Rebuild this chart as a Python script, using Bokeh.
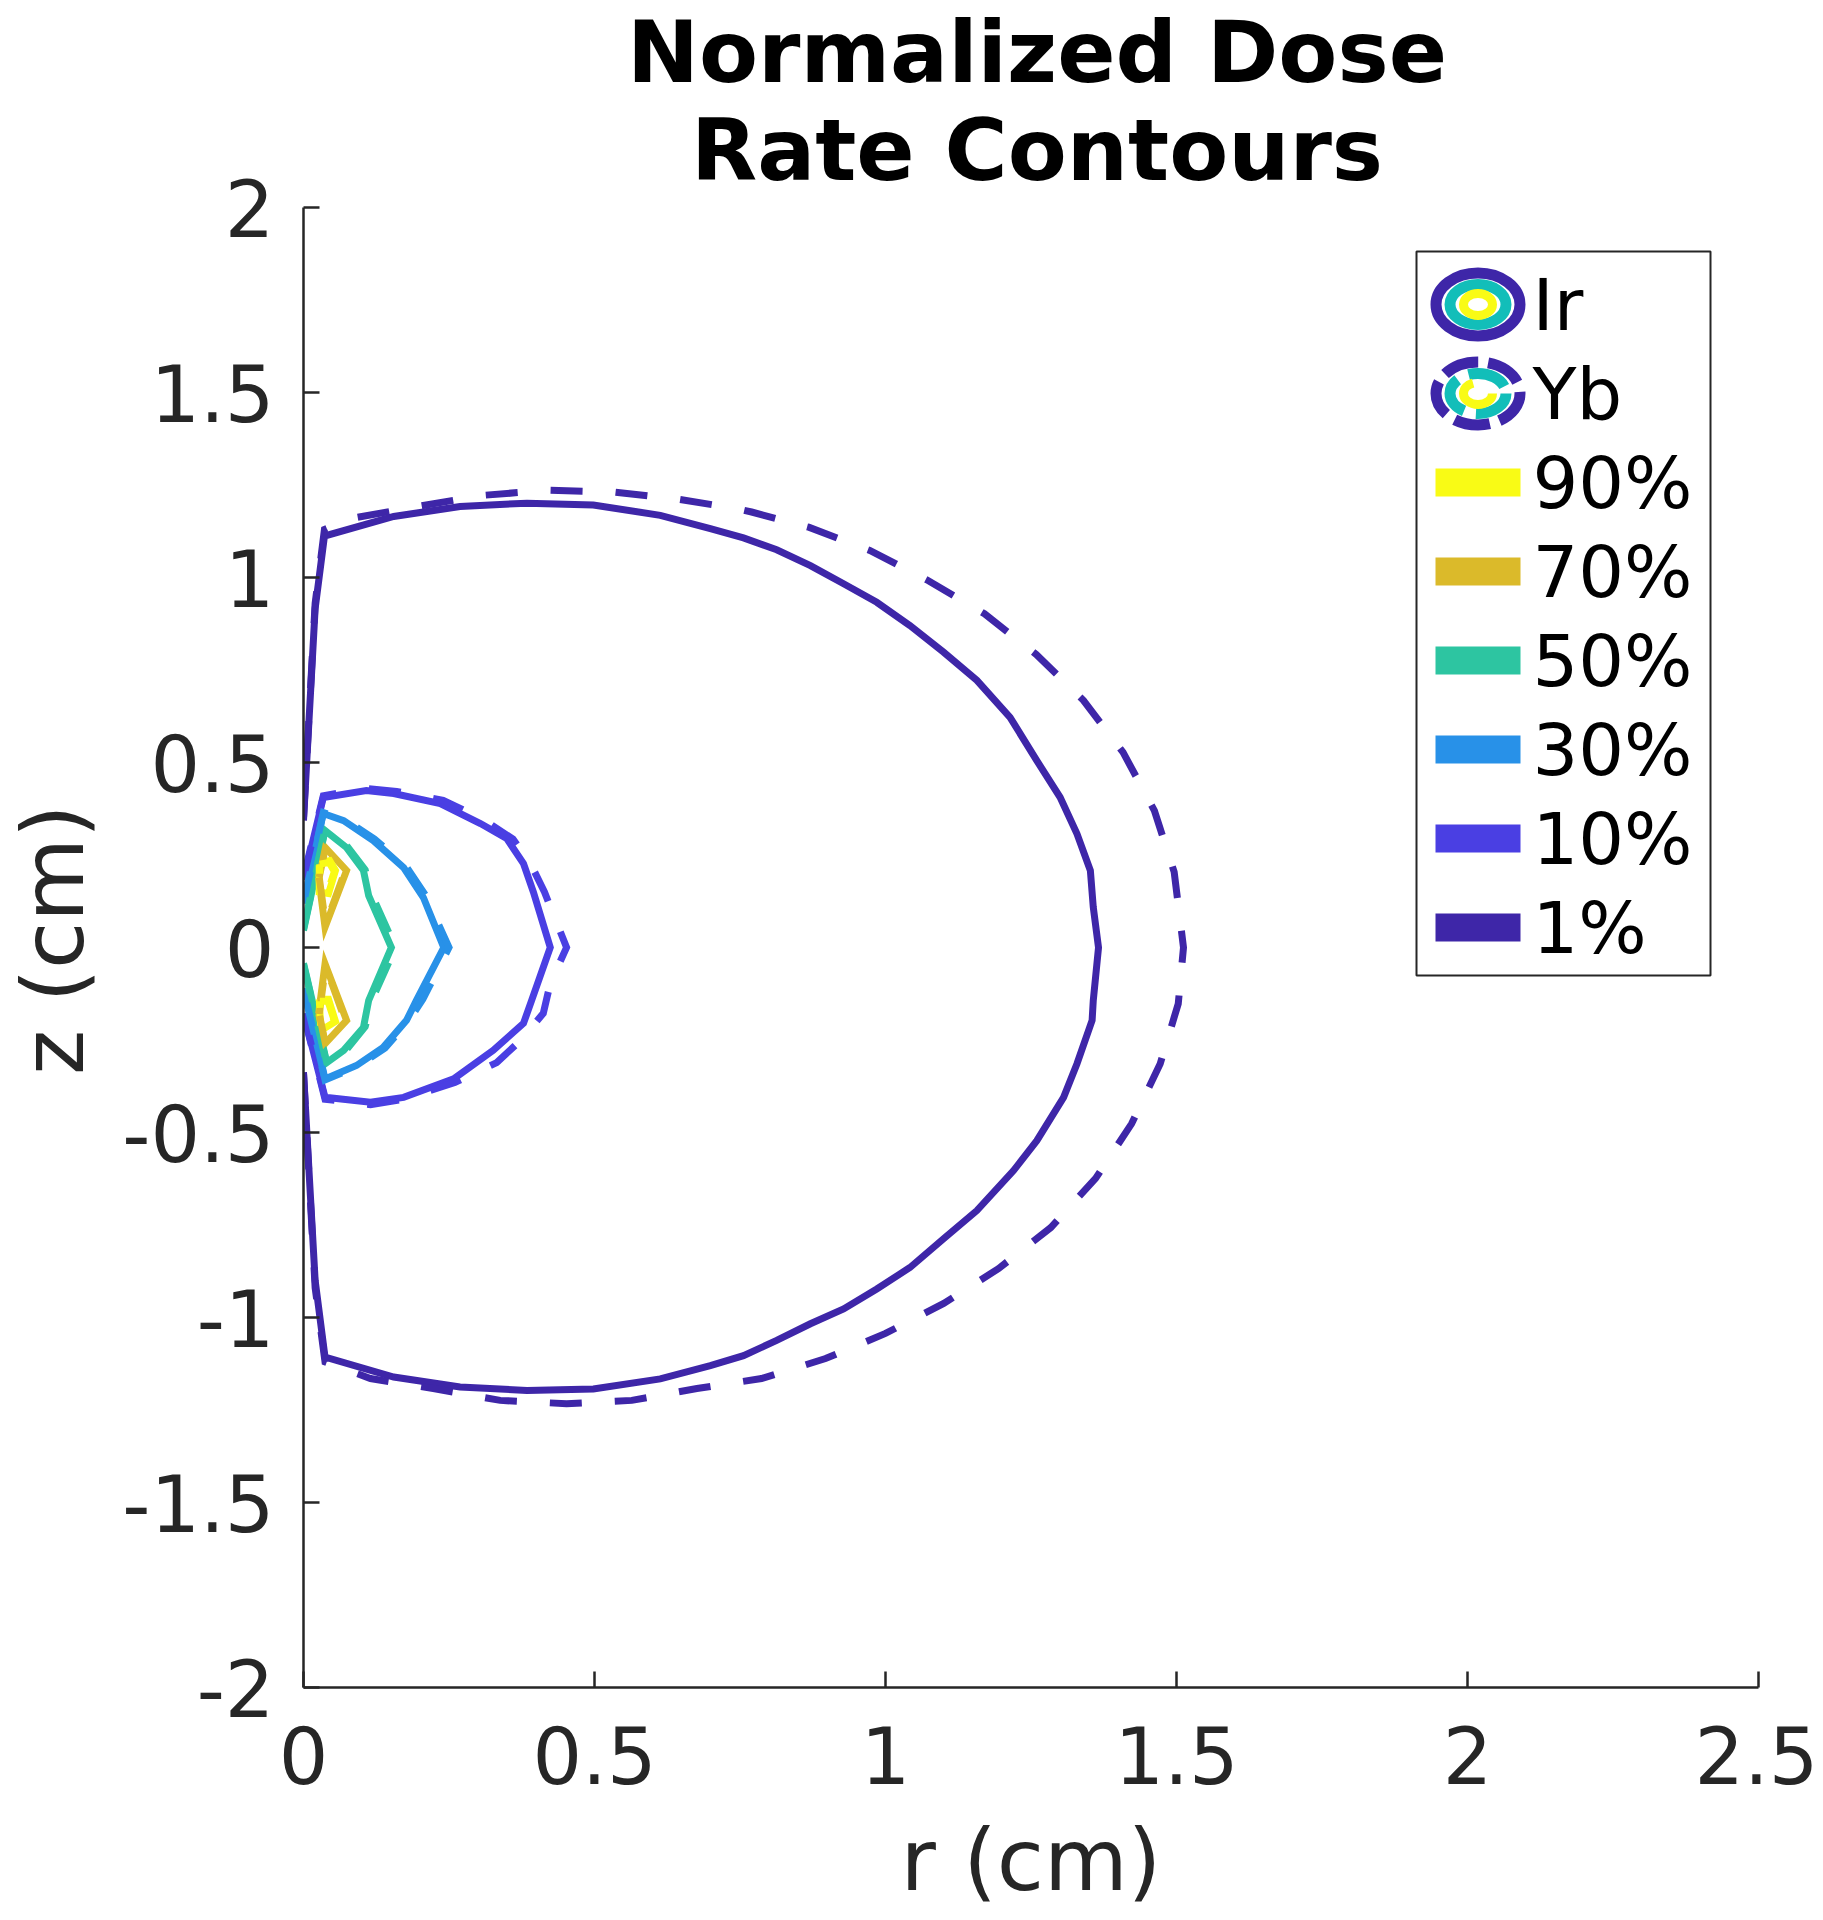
from bokeh.plotting import figure
from bokeh.models import Range1d, FixedTicker
from bokeh.embed import file_html
from bokeh.resources import INLINE
from bokeh.core.properties import value

# ---------------- data (r, z in cm) ----------------
ir_1_r = [0.0, 0.02, 0.036, 0.155, 0.269, 0.384, 0.498, 0.613, 0.699, 0.756, 0.813, 0.871, 0.928, 0.985, 1.042, 1.100,
          1.157, 1.214, 1.260, 1.300, 1.329, 1.352, 1.357, 1.366,
          1.357, 1.355, 1.329, 1.306, 1.26, 1.22, 1.157, 1.1, 1.042, 0.985, 0.928, 0.871, 0.813, 0.756, 0.699, 0.613,
          0.498, 0.384, 0.269, 0.155, 0.037, 0.02, 0.0]
ir_1_z = [0.343, 0.916, 1.112, 1.165, 1.192, 1.201, 1.196, 1.168, 1.132, 1.107, 1.075, 1.032, 0.983, 0.933, 0.870, 0.798,
          0.722, 0.622, 0.505, 0.406, 0.307, 0.208, 0.109, 0.0,
          -0.143, -0.197, -0.314, -0.405, -0.522, -0.603, -0.711, -0.787, -0.865, -0.923, -0.977, -1.017, -1.062, -1.103,
          -1.13, -1.166, -1.193, -1.197, -1.188, -1.161, -1.107, -0.9, -0.337]

yb_1_r = [0.0, 0.02, 0.036, 0.083, 0.196, 0.308, 0.421, 0.534, 0.646, 0.745, 0.770, 0.868, 0.973, 1.073, 1.170, 1.259,
          1.340, 1.408, 1.462, 1.496, 1.512,
          1.503, 1.472, 1.423, 1.361, 1.284, 1.194, 1.1, 1.0, 0.897, 0.787, 0.676, 0.564, 0.452, 0.338, 0.223, 0.115,
          0.037, 0.02, 0.0]
yb_1_z = [0.35, 0.93, 1.13, 1.16, 1.192, 1.222, 1.236, 1.231, 1.211, 1.186, 1.177, 1.136, 1.073, 0.992, 0.902, 0.792,
          0.668, 0.528, 0.370, 0.204, 0.0,
          -0.152, -0.314, -0.476, -0.624, -0.757, -0.868, -0.962, -1.043, -1.111, -1.165, -1.192, -1.224, -1.233, -1.224,
          -1.192, -1.165, -1.12, -0.92, -0.34]

ir_10_r = [0.0, 0.034, 0.108, 0.155, 0.235, 0.304, 0.349, 0.378, 0.395, 0.424, 0.392, 0.378, 0.326, 0.258, 0.172, 0.115, 0.037, 0.0]
ir_10_z = [0.183, 0.405, 0.424, 0.416, 0.389, 0.335, 0.295, 0.227, 0.15, 0.0, -0.143, -0.205, -0.278, -0.355, -0.405, -0.418, -0.405, -0.178]

yb_10_r = [0.0, 0.034, 0.108, 0.16, 0.24, 0.31, 0.36, 0.39, 0.414, 0.452, 0.424, 0.412, 0.373, 0.332, 0.26, 0.172, 0.115, 0.037, 0.0]
yb_10_z = [0.19, 0.41, 0.43, 0.422, 0.398, 0.345, 0.293, 0.227, 0.15, 0.0, -0.097, -0.178, -0.251, -0.311, -0.365, -0.41, -0.425, -0.41, -0.18]

ir_30_r = [0.0, 0.034, 0.069, 0.12, 0.172, 0.206, 0.241, 0.194, 0.177, 0.137, 0.091, 0.037, 0.0]
ir_30_z = [0.119, 0.362, 0.343, 0.289, 0.216, 0.135, 0.0, -0.143, -0.197, -0.27, -0.319, -0.355, -0.11]

yb_30_r = [0.0, 0.034, 0.07, 0.122, 0.176, 0.21, 0.25, 0.205, 0.18, 0.14, 0.092, 0.037, 0.0]
yb_30_z = [0.12, 0.365, 0.347, 0.293, 0.22, 0.14, 0.0, -0.14, -0.2, -0.272, -0.322, -0.358, -0.112]

ir_50_r = [0.0, 0.037, 0.074, 0.103, 0.112, 0.151, 0.112, 0.103, 0.069, 0.04, 0.0]
ir_50_z = [0.046, 0.316, 0.27, 0.208, 0.14, 0.0, -0.143, -0.216, -0.278, -0.311, -0.043]

yb_50_r = [0.0, 0.037, 0.076, 0.106, 0.118, 0.158, 0.118, 0.106, 0.072, 0.04, 0.0]
yb_50_z = [0.05, 0.32, 0.272, 0.21, 0.14, 0.0, -0.14, -0.214, -0.28, -0.315, -0.046]

# 70 % and 90 % are two closed lobes each (upper, lower)
ir_70_r = [[0.026, 0.037, 0.074, 0.037, 0.026], [0.026, 0.037, 0.074, 0.037, 0.026]]
ir_70_z = [[0.19, 0.271, 0.208, 0.055, 0.19], [-0.179, -0.044, -0.197, -0.26, -0.179]]
yb_70_r = [[0.027, 0.037, 0.071, 0.038, 0.027], [0.027, 0.038, 0.071, 0.037, 0.027]]
yb_70_z = [[0.19, 0.265, 0.205, 0.062, 0.19], [-0.18, -0.05, -0.195, -0.255, -0.18]]

ir_90_r = [[0.027, 0.045, 0.055, 0.043, 0.027, 0.027], [0.027, 0.043, 0.055, 0.03, 0.027]]
ir_90_z = [[0.23, 0.235, 0.208, 0.146, 0.15, 0.23], [-0.14, -0.14, -0.2, -0.224, -0.14]]
yb_90_r = [[0.028, 0.044, 0.053, 0.042, 0.028, 0.028], [0.028, 0.042, 0.053, 0.031, 0.028]]
yb_90_z = [[0.225, 0.23, 0.205, 0.152, 0.156, 0.225], [-0.145, -0.145, -0.198, -0.22, -0.145]]

levels = ["90%", "70%", "50%", "30%", "10%", "1%"]
level_colors = ["#F9FB15", "#DBBA2A", "#2DC5A1", "#2891E8", "#4A3FE3", "#3E26A8"]
sources = ["Ir", "Yb"]

title_lines = ["Normalized Dose", "Rate Contours"]
x_label = "r (cm)"
y_label = "z (cm)"

x_ticks = [0, 0.5, 1, 1.5, 2, 2.5]
x_tick_labels = ["0", "0.5", "1", "1.5", "2", "2.5"]
y_ticks = [-2, -1.5, -1, -0.5, 0, 0.5, 1, 1.5, 2]
y_tick_labels = ["-2", "-1.5", "-1", "-0.5", "0", "0.5", "1", "1.5", "2"]
z_min, z_max = -2, 2

# ---------------- figure ----------------
# the frame also covers the title strip above z = 2; the axis line is bounded to [-2, 2]
LEFT, RIGHT, BOTTOM = 299, 60, 231
TOP = 207            # px of title strip above the z = 2 line
AXIS_H = 1480        # px from z = -2 to z = 2
FW, FH = 1455, TOP + AXIS_H
FONT = "DejaVu Sans"
AX = "#262626"
z_top = z_max + TOP * (z_max - z_min) / AXIS_H

p = figure(frame_width=FW, frame_height=FH, x_range=Range1d(0, 2.5), y_range=Range1d(z_min, z_top),
           output_backend="svg", toolbar_location=None, title=None,
           min_border_left=LEFT, min_border_right=RIGHT, min_border_top=0, min_border_bottom=BOTTOM,
           background_fill_color="white", border_fill_color="white")
p.extra_x_ranges = {"lx": Range1d(0, FW)}
p.extra_y_ranges = {"ly": Range1d(FH, 0)}
LR = dict(x_range_name="lx", y_range_name="ly")

p.outline_line_color = None
p.grid.visible = False

# the y label is centred on the whole frame (title strip included): pad its upper end with
# no-break spaces so that the visible text sits centred on the z axis
y_label_padded = y_label + "\u00a0" * 7

for ax, ticks, labels, lab in ((p.xaxis[0], x_ticks, x_tick_labels, x_label),
                               (p.yaxis[0], y_ticks, y_tick_labels, y_label_padded)):
    ax.ticker = FixedTicker(ticks=ticks)
    ax.major_label_overrides = {t: l for t, l in zip(ticks, labels)}
    ax.axis_label = lab
    ax.axis_label_text_font = FONT
    ax.axis_label_text_font_size = "86px"
    ax.axis_label_text_font_style = "normal"
    ax.axis_label_text_color = AX
    ax.major_label_text_font = FONT
    ax.major_label_text_font_size = "78px"
    ax.major_label_text_color = AX
    ax.axis_line_color = AX
    ax.axis_line_width = 2.5
    ax.major_tick_line_color = AX
    ax.major_tick_line_width = 2.5
    ax.major_tick_in = 16
    ax.major_tick_out = 0
    ax.minor_tick_line_color = None
p.yaxis.bounds = (z_min, z_max)

p.xaxis.major_label_standoff = 38
p.xaxis.axis_label_standoff = 23
p.yaxis.major_label_standoff = 29
p.yaxis.axis_label_standoff = 16

# title (two centred bold lines), kept fully inside the canvas
p.text(x=[FW / 2 + 6] * 2, y=[51, 149], text=title_lines, text_font=value(FONT),
       text_font_size=value("86px"), text_font_style="bold", text_color="#000000",
       text_align="center", text_baseline="middle", **LR)

LW = 7
DASH = "32 33"
col = dict(zip(levels, level_colors))

# solid Ir contours
for r, z, lev in ((ir_1_r, ir_1_z, "1%"), (ir_10_r, ir_10_z, "10%"), (ir_30_r, ir_30_z, "30%"),
                  (ir_50_r, ir_50_z, "50%")):
    p.line(r, z, line_color=col[lev], line_width=LW, line_join="miter")
p.multi_line(ir_70_r, ir_70_z, line_color=col["70%"], line_width=LW, line_join="miter")
p.multi_line(ir_90_r, ir_90_z, line_color=col["90%"], line_width=LW, line_join="miter")

# dashed Yb contours
for r, z, lev in ((yb_1_r, yb_1_z, "1%"), (yb_10_r, yb_10_z, "10%"), (yb_30_r, yb_30_z, "30%"),
                  (yb_50_r, yb_50_z, "50%")):
    p.line(r, z, line_color=col[lev], line_width=LW, line_dash=DASH, line_join="miter")
p.multi_line(yb_70_r, yb_70_z, line_color=col["70%"], line_width=LW, line_dash=DASH, line_join="miter")
p.multi_line(yb_90_r, yb_90_z, line_color=col["90%"], line_width=LW, line_dash=DASH, line_join="miter")

# ---------------- legend (frame pixel coordinates) ----------------
box_l, box_r, box_t, box_b = 1113, 1407, TOP + 44, TOP + 768
p.quad(left=[box_l], right=[box_r], top=[box_t], bottom=[box_b], fill_color="white",
       line_color=AX, line_width=2, **LR)

row0, step = TOP + 97, 89
icon_x = 1174.5
rows = [row0 + i * step for i in range(len(sources) + len(levels))]

# Ir / Yb icons: concentric rings
ring_w = [84, 56, 29]
ring_h = [63, 40, 22]
ring_lw = [11, 11, 9]
ring_col = ["#3E26A8", "#12BEB9", "#F9FB15"]
ring_dash = ["36 10", "40 12", "55 25"]
for k in range(3):
    p.ellipse(x=[icon_x], y=[rows[0]], width=ring_w[k], height=ring_h[k], fill_color=None,
              line_color=ring_col[k], line_width=ring_lw[k], **LR)
    p.ellipse(x=[icon_x], y=[rows[1]], width=ring_w[k], height=ring_h[k], fill_color=None,
              line_color=ring_col[k], line_width=ring_lw[k], line_dash=ring_dash[k], **LR)

# level swatches
sw_rows = rows[2:]
p.quad(left=[1132] * len(levels), right=[1217] * len(levels),
       top=[y - 14 for y in sw_rows], bottom=[y + 14 for y in sw_rows],
       fill_color=level_colors, line_color=None, **LR)

labels_all = sources + levels
p.text(x=[1229] * len(labels_all), y=rows, text=labels_all,
       text_font=value(FONT), text_font_size=value("72px"), text_color="#000000",
       text_baseline="middle", text_align="left", **LR)

open("out.html", "w").write(file_html(p, INLINE))
